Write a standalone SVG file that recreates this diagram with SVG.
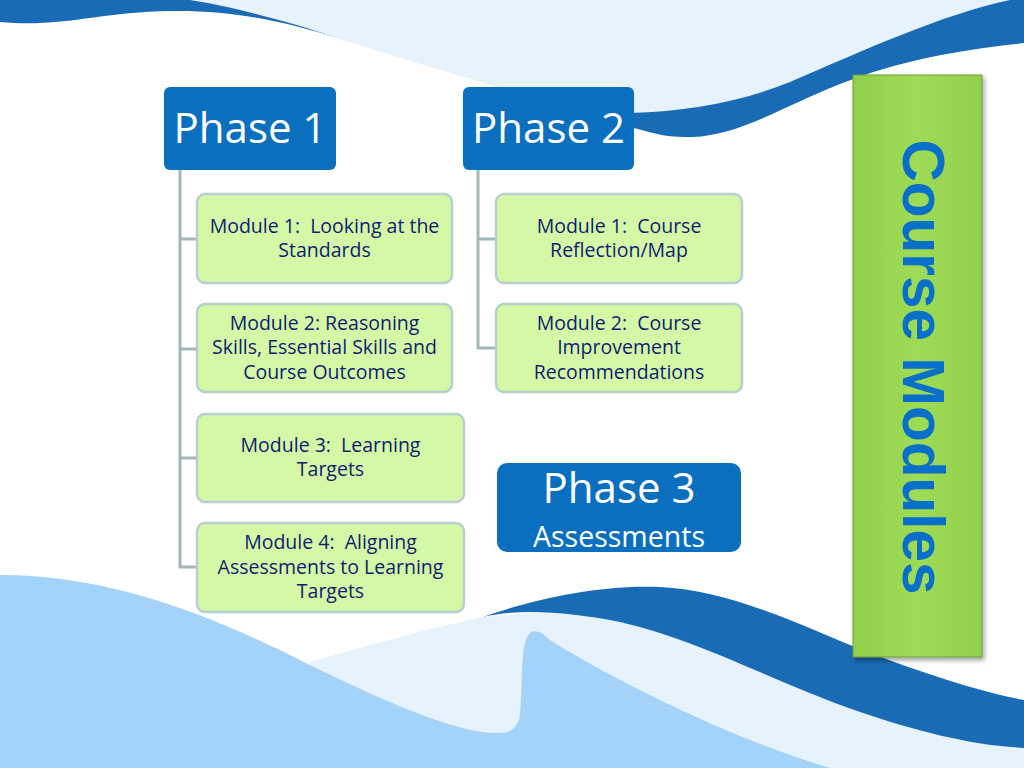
<svg xmlns="http://www.w3.org/2000/svg" width="1024" height="768" viewBox="0 0 1024 768">
<defs>
<style>
.phase{fill:#0B6FC0}
.ptxt{font-family:"Open Sans","Liberation Sans",sans-serif;fill:#ffffff;text-anchor:middle}
.mod{fill:#D4F8A6;stroke:#B7CFCF;stroke-width:2.5}
.mtxt{font-family:"Open Sans","Liberation Sans",sans-serif;font-size:19.5px;fill:#0F1D70;text-anchor:middle;white-space:pre}
.conn{fill:none;stroke:#A3B7B9;stroke-width:3}
.dark{fill:#1A6BB5}
.pale{fill:#E6F2FC}
.light{fill:#A3D3F9}
</style>
<linearGradient id="gbox" x1="0" y1="0" x2="1" y2="0">
<stop offset="0" stop-color="#92CF4C"/>
<stop offset="0.5" stop-color="#9EDC57"/>
<stop offset="1" stop-color="#92CF4C"/>
</linearGradient>
<filter id="sh" x="-10%" y="-5%" width="125%" height="112%">
<feDropShadow dx="2" dy="3" stdDeviation="2" flood-color="#000000" flood-opacity="0.35"/>
</filter>
</defs>
<rect width="1024" height="768" fill="#ffffff"/>
<g id="background">
<path class="pale" d="M180 0 L1024 0 L1024 30 C950 42 850 72 760 106 C720 120 680 124 640 120 C560 110 430 66 333 37 C280 21 230 8 180 0 Z"/>
<path class="dark" d="M0 0 L190 0 C230 6 290 22 335 37 C290 24 240 10 170 11 C100 12 60 28 0 22 Z"/>
<path class="dark" d="M630 113 C690 111 740 102 790 82 C860 52 940 15 1010 0 L1024 0 L1024 43 C960 50 900 60 840 84 C780 108 740 135 692 137 C665 138 650 132 630 127 Z"/>
<path class="pale" d="M310 662 C370 645 430 628 483 617 L700 600 L1024 720 L1024 768 L310 768 Z"/>
<path class="dark" d="M483 617 C520 608 570 612 620 622 C700 640 780 685 860 712 C920 732 970 745 1024 748 L1024 700 C970 690 900 665 845 643 C780 615 720 590 660 587 C600 584 530 600 483 617 Z"/>
<path class="light" d="M0 575 C110 575 210 615 300 660 C380 700 460 735 500 733 C510 733 518 728 520 715 C523 680 520 642 530 633 C535 629 542 632 550 640 C600 672 720 735 830 768 L0 768 Z"/>
</g>
<g id="connectors">
<path class="conn" d="M180 170 L180 567 L197 567 M180 239 L197 239 M180 349 L197 349 M180 458 L197 458"/>
<path class="conn" d="M478 170 L478 348 L496 348 M478 239 L496 239"/>
</g>
<g id="phase1">
<rect class="phase" x="164" y="87" width="172" height="83" rx="6"/>
<text class="ptxt" x="250" y="143" font-size="42">Phase 1</text>
</g>
<g id="phase2">
<rect class="phase" x="463" y="87" width="171" height="83" rx="6"/>
<text class="ptxt" x="548.5" y="143" font-size="42">Phase 2</text>
</g>
<g id="p1m1">
<rect class="mod" x="197" y="194" width="255" height="89" rx="8"/>
<text class="mtxt" x="324.5" y="232.5" xml:space="preserve">Module 1:  Looking at the</text>
<text class="mtxt" x="324.5" y="257">Standards</text>
</g>
<g id="p1m2">
<rect class="mod" x="197" y="304" width="255" height="88" rx="8"/>
<text class="mtxt" x="324.5" y="329.5">Module 2: Reasoning</text>
<text class="mtxt" x="324.5" y="354">Skills, Essential Skills and</text>
<text class="mtxt" x="324.5" y="378.5">Course Outcomes</text>
</g>
<g id="p1m3">
<rect class="mod" x="197" y="414" width="267" height="88" rx="8"/>
<text class="mtxt" x="330.5" y="451.5" xml:space="preserve">Module 3:  Learning</text>
<text class="mtxt" x="330.5" y="476">Targets</text>
</g>
<g id="p1m4">
<rect class="mod" x="197" y="523" width="267" height="89" rx="8"/>
<text class="mtxt" x="330.5" y="549" xml:space="preserve">Module 4:  Aligning</text>
<text class="mtxt" x="330.5" y="573.5">Assessments to Learning</text>
<text class="mtxt" x="330.5" y="598">Targets</text>
</g>
<g id="p2m1">
<rect class="mod" x="496" y="194" width="246" height="89" rx="8"/>
<text class="mtxt" x="619" y="232.5" xml:space="preserve">Module 1:  Course</text>
<text class="mtxt" x="619" y="257">Reflection/Map</text>
</g>
<g id="p2m2">
<rect class="mod" x="496" y="304" width="246" height="88" rx="8"/>
<text class="mtxt" x="619" y="329.5" xml:space="preserve">Module 2:  Course</text>
<text class="mtxt" x="619" y="354">Improvement</text>
<text class="mtxt" x="619" y="378.5">Recommendations</text>
</g>
<g id="phase3">
<rect class="phase" x="497" y="463" width="244" height="89" rx="10"/>
<text class="ptxt" x="619" y="503" font-size="42">Phase 3</text>
<text class="ptxt" x="619" y="547" font-size="28.5">Assessments</text>
</g>
<g id="course-modules">
<rect x="853" y="75" width="129" height="582" fill="url(#gbox)" stroke="#6F9B3C" stroke-width="1" filter="url(#sh)"/>
<text transform="translate(903,367) rotate(90)" x="0" y="0" text-anchor="middle" font-family="'Liberation Sans',Arial,sans-serif" font-weight="bold" font-size="60" fill="#0A6FC8" textLength="455" lengthAdjust="spacingAndGlyphs">Course Modules</text>
</g>
</svg>
